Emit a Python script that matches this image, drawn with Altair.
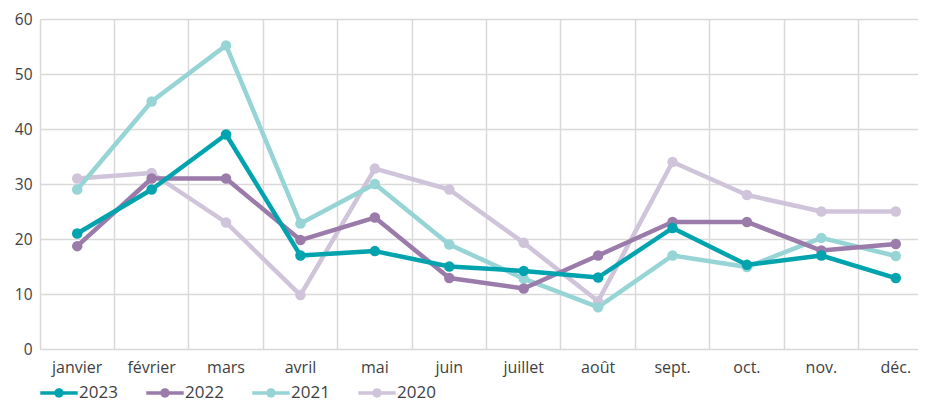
import altair as alt
import pandas as pd

months = ["janvier", "février", "mars", "avril", "mai", "juin", "juillet",
          "août", "sept.", "oct.", "nov.", "déc."]
years = ["2023", "2022", "2021", "2020"]
colors = ["#00A3AE", "#9A7BAA", "#96D4D6", "#CFC4DA"]

v2023 = [21, 29, 39, 17, 17.8, 15, 14.2, 13, 22, 15.3, 17, 12.9]
v2022 = [18.7, 31, 31, 19.8, 23.9, 12.9, 11, 17, 23.1, 23.1, 17.9, 19.1]
v2021 = [29, 45, 55.2, 22.8, 30, 19, 12.8, 7.6, 17, 14.9, 20.2, 16.9]
v2020 = [31, 32, 23, 9.8, 32.8, 29, 19.3, 8.7, 34, 28, 25, 25]

draw_order = ["2020", "2021", "2022", "2023"]
series = {"2020": v2020, "2021": v2021, "2022": v2022, "2023": v2023}
rows = []
for y in draw_order:
    for i, m in enumerate(months):
        rows.append({"mois": m, "annee": y, "valeur": series[y][i],
                     "rang": draw_order.index(y)})
df = pd.DataFrame(rows)

FONT = "Open Sans"
LABEL_COLOR = "#3F3F3F"
GRID = "#D9D9D9"

xscale = alt.Scale(type="band", domain=months, paddingInner=0, paddingOuter=0,
                   range=[0, 893])
yscale = alt.Scale(domain=[0, 60], nice=False)
cscale = alt.Scale(domain=years, range=colors)

sym = ("M-1,-0.1 L1,-0.1 L1,0.1 L-1,0.1 Z "
       "M0.25,0 A0.25,0.25 0 1 1 -0.25,0 A0.25,0.25 0 1 1 0.25,0 Z")

legend = alt.Legend(orient="none", legendX=0, legendY=355, direction="horizontal",
                    title=None, symbolType=sym, symbolSize=1400, symbolStrokeWidth=0,
                    labelFontSize=17, labelFont=FONT, labelColor=LABEL_COLOR,
                    labelOffset=1, columnPadding=28, padding=0)

base = alt.Chart(df)

grid_x = base.mark_line(opacity=0).encode(
    x=alt.X("mois:N", scale=xscale, sort=months,
            axis=alt.Axis(orient="top", bandPosition=0, grid=True, gridColor=GRID,
                          gridWidth=1.5, labels=False, ticks=False, domain=False,
                          title=None)),
    y=alt.Y("valeur:Q", scale=yscale),
    detail="annee:N",
)

lines = base.mark_line(strokeWidth=4.5, strokeJoin="round").encode(
    x=alt.X("mois:N", scale=xscale, sort=months,
            axis=alt.Axis(grid=False, ticks=False, domain=False, title=None,
                          labelAngle=0, labelPadding=10, labelFontSize=16,
                          labelFont=FONT, labelColor=LABEL_COLOR)),
    y=alt.Y("valeur:Q", scale=yscale,
            axis=alt.Axis(values=[0, 10, 20, 30, 40, 50, 60], grid=True, gridColor=GRID,
                          gridWidth=1.5, ticks=False, domain=False, title=None,
                          labelPadding=8, labelFontSize=15.5, labelFont=FONT,
                          labelColor=LABEL_COLOR)),
    color=alt.Color("annee:N", scale=cscale, legend=legend),
    order=alt.Order("rang:Q"),
)

points = base.mark_point(filled=True, size=110, opacity=1).encode(
    x=alt.X("mois:N", scale=xscale, sort=months, axis=None),
    y=alt.Y("valeur:Q", scale=yscale),
    color=alt.Color("annee:N", scale=cscale, legend=legend),
    order=alt.Order("rang:Q"),
)

chart = alt.layer(grid_x, lines, points).resolve_axis(x="independent").properties(
    width=878, height=330,
    autosize=alt.AutoSizeParams(type="none"),
    padding={"left": 32, "top": 11, "right": 0, "bottom": 55},
).configure_view(stroke=None)

chart.save("out.html", embed_options={"renderer": "svg", "actions": False})
